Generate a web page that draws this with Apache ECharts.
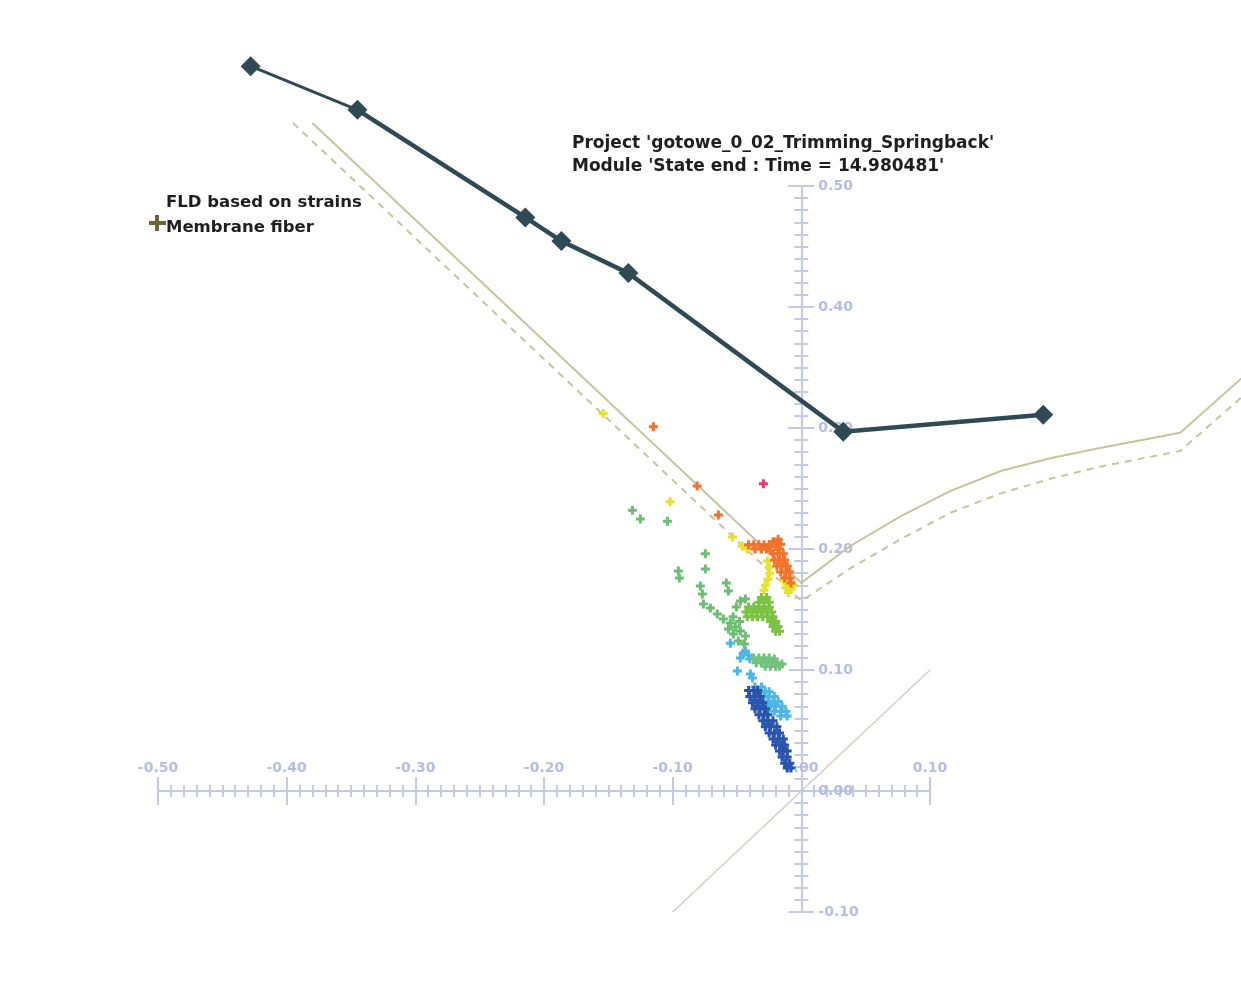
<!DOCTYPE html>
<html>
<head>
<meta charset="utf-8">
<title>FLD based on strains</title>
<script src="https://cdn.jsdelivr.net/npm/echarts@6/dist/echarts.min.js"></script>
<style>
  html, body { margin: 0; padding: 0; background: #ffffff; }
  #chart { width: 1241px; height: 984px; }
</style>
</head>
<body>
<div id="chart"></div>
<script>
// Axis ranges (minor strain on x, major strain on y)
const xRange = [-0.5, 0.1];
const yRange = [-0.1, 0.5];
const tickStep = 0.1;

const titleLines = [
  "Project 'gotowe_0_02_Trimming_Springback'",
  "Module 'State end : Time = 14.980481'"
];
const legendLabels = ['FLD based on strains', 'Membrane fiber'];

// Forming limit curve and its safety margin
const fldCurve = [[-0.380, 0.552], [0, 0.172], [0.038, 0.2025], [0.077, 0.227], [0.116, 0.248],
  [0.155, 0.2645], [0.1935, 0.275], [0.232, 0.2835], [0.2945, 0.296], [0.36, 0.358]];
const fldSafety = [[-0.395, 0.552], [0, 0.157], [0.038, 0.184], [0.077, 0.208], [0.116, 0.230],
  [0.155, 0.246], [0.1935, 0.258], [0.232, 0.268], [0.2945, 0.281], [0.36, 0.342]];
// Equi-biaxial reference line
const diagonal = [[-0.1, -0.1], [0.1, 0.1]];

// Strain path (diamond nodes)
const strainPath = [[-0.428, 0.599], [-0.345, 0.563], [-0.2145, 0.474], [-0.1865, 0.4545],
  [-0.1344, 0.428], [0.0326, 0.297], [0.188, 0.311]];

// Membrane fiber strain points, grouped by colour level
const ptsDarkBlue = [
  [-0.041, 0.083], [-0.037, 0.083], [-0.034, 0.083],
  [-0.040, 0.078], [-0.036, 0.078], [-0.032, 0.078],
  [-0.038, 0.073], [-0.034, 0.073], [-0.030, 0.073],
  [-0.036, 0.068], [-0.032, 0.068], [-0.028, 0.068],
  [-0.033, 0.063], [-0.029, 0.063], [-0.026, 0.063],
  [-0.030, 0.058], [-0.026, 0.058], [-0.022, 0.058],
  [-0.028, 0.053], [-0.024, 0.053], [-0.019, 0.053],
  [-0.025, 0.048], [-0.021, 0.048], [-0.017, 0.048],
  [-0.022, 0.043], [-0.018, 0.043], [-0.014, 0.043],
  [-0.020, 0.038], [-0.016, 0.038], [-0.013, 0.038],
  [-0.017, 0.033], [-0.014, 0.033], [-0.011, 0.033],
  [-0.015, 0.028], [-0.011, 0.028],
  [-0.013, 0.023], [-0.009, 0.023],
  [-0.011, 0.019], [-0.008, 0.019]];
const ptsLightBlue = [
  [-0.0451, 0.114], [-0.0412, 0.1123], [-0.0474, 0.1099], [-0.0435, 0.1156], [-0.040, 0.109],
  [-0.0552, 0.1222], [-0.0497, 0.0991], [-0.0396, 0.0966], [-0.038, 0.0933],
  [-0.036, 0.086], [-0.031, 0.086],
  [-0.032, 0.082], [-0.028, 0.082], [-0.025, 0.082],
  [-0.029, 0.078], [-0.025, 0.078], [-0.021, 0.078],
  [-0.026, 0.074], [-0.022, 0.074], [-0.018, 0.074],
  [-0.024, 0.070], [-0.020, 0.070], [-0.015, 0.070],
  [-0.021, 0.066], [-0.016, 0.066], [-0.012, 0.066],
  [-0.016, 0.062], [-0.011, 0.062]];
const ptsCyanGreen = [
  [-0.037, 0.110], [-0.033, 0.110], [-0.029, 0.110], [-0.025, 0.110], [-0.021, 0.109],
  [-0.035, 0.106], [-0.031, 0.106], [-0.027, 0.106], [-0.023, 0.106], [-0.019, 0.106], [-0.015, 0.105],
  [-0.028, 0.103], [-0.024, 0.103], [-0.020, 0.103], [-0.017, 0.103]];
const ptsMidGreen = [[-0.0746, 0.196], [-0.0746, 0.1834], [-0.0956, 0.1818], [-0.0948, 0.176],
  [-0.0785, 0.1694], [-0.0769, 0.1628], [-0.0583, 0.1719], [-0.0567, 0.1652], [-0.1313, 0.2321],
  [-0.1251, 0.2247], [-0.1041, 0.223], [-0.0761, 0.1545], [-0.0707, 0.1512], [-0.0653, 0.1462],
  [-0.0606, 0.1421], [-0.0552, 0.1388], [-0.0513, 0.1355], [-0.0474, 0.1322], [-0.0435, 0.128],
  [-0.0528, 0.1297], [-0.049, 0.1239], [-0.0443, 0.1215], [-0.0567, 0.1338], [-0.0474, 0.157],
  [-0.0435, 0.1586], [-0.0505, 0.152], [-0.0480, 0.1400], [-0.0530, 0.1440]];
const ptsGreen = [
  [-0.031, 0.160], [-0.027, 0.160],
  [-0.033, 0.156], [-0.029, 0.156], [-0.025, 0.156],
  [-0.041, 0.152], [-0.037, 0.152], [-0.033, 0.152], [-0.029, 0.152], [-0.025, 0.152],
  [-0.043, 0.148], [-0.039, 0.148], [-0.035, 0.148], [-0.031, 0.148], [-0.027, 0.148], [-0.023, 0.148],
  [-0.042, 0.144], [-0.038, 0.144], [-0.034, 0.144], [-0.030, 0.144], [-0.026, 0.144], [-0.022, 0.144],
  [-0.024, 0.140], [-0.020, 0.140],
  [-0.022, 0.136], [-0.018, 0.136],
  [-0.020, 0.132], [-0.017, 0.132]];
const ptsYellow = [[-0.154, 0.312], [-0.102, 0.239], [-0.0536, 0.210], [-0.046, 0.2025],
  [-0.042, 0.200], [-0.0264, 0.190], [-0.025, 0.185], [-0.0245, 0.180], [-0.026, 0.175],
  [-0.028, 0.170], [-0.029, 0.166], [-0.014, 0.174], [-0.010, 0.172], [-0.012, 0.168],
  [-0.008, 0.167], [-0.010, 0.164], [-0.006, 0.170]];
const ptsOrange = [[-0.115, 0.301], [-0.081, 0.252], [-0.0645, 0.228],
  [-0.041, 0.2035], [-0.037, 0.2035], [-0.033, 0.2035], [-0.029, 0.2035], [-0.025, 0.2035],
  [-0.036, 0.200], [-0.031, 0.200], [-0.027, 0.200],
  [-0.022, 0.206], [-0.018, 0.208], [-0.016, 0.204], [-0.020, 0.202], [-0.024, 0.199], [-0.017, 0.200],
  [-0.022, 0.196], [-0.018, 0.196], [-0.014, 0.196],
  [-0.021, 0.191], [-0.017, 0.191], [-0.013, 0.191],
  [-0.019, 0.186], [-0.015, 0.186], [-0.011, 0.186],
  [-0.016, 0.181], [-0.012, 0.181], [-0.009, 0.181],
  [-0.013, 0.176], [-0.009, 0.176], [-0.008, 0.172]];
const ptsRed = [[-0.0295, 0.254]];

const plusIcon = 'path://M3,0H6V3H9V6H6V9H3V6H0V3H3Z';
const axisBlue = '#c3c9ea';
const labelBlue = '#b5bde6';
const font = 'DejaVu Sans';

// Plot area; the visible axes sit on separate grids whose edges run through zero
const plot = { left: 158, top: 186, width: 772, height: 726 };
const zeroX = plot.left + plot.width * (0 - xRange[0]) / (xRange[1] - xRange[0]);
const zeroY = plot.top + plot.height * (yRange[1] - 0) / (yRange[1] - yRange[0]);

function fiberSeries(data, color) {
  return {
    name: legendLabels[1], type: 'scatter', data: data, symbol: plusIcon, symbolSize: 9,
    itemStyle: { color: color, opacity: 1 }, clip: false, z: 4, silent: true
  };
}
function curveSeries(coords, color, width, dash, z) {
  return {
    type: 'lines', coordinateSystem: 'cartesian2d', xAxisIndex: 0, yAxisIndex: 0,
    polyline: true, clip: false, silent: true, z: z,
    data: [{ coords: coords }],
    lineStyle: { color: color, width: width, opacity: 1, type: dash || 'solid', curveness: 0 }
  };
}

const fmt = v => v.toFixed(2);
const hidden = (min, max, grid) => ({ type: 'value', min: min, max: max, gridIndex: grid, show: false });

function visibleX(inside, withLine) {
  return {
    type: 'value', gridIndex: 1, position: 'bottom', min: xRange[0], max: xRange[1], interval: tickStep,
    axisLine: { show: withLine, onZero: false, lineStyle: { color: axisBlue, width: 2 } },
    axisTick: { show: true, inside: inside, length: 14, lineStyle: { color: axisBlue, width: 2 } },
    minorTick: { show: true, splitNumber: 10, length: 6, lineStyle: { color: axisBlue, width: 2 } },
    axisLabel: { show: withLine, inside: true, margin: 16, formatter: fmt, color: labelBlue,
      fontFamily: font, fontWeight: 'bold', fontSize: 14 },
    splitLine: { show: false }
  };
}
function visibleY(inside, withLine) {
  return {
    type: 'value', gridIndex: 2, position: 'left', min: yRange[0], max: yRange[1], interval: tickStep,
    axisLine: { show: withLine, onZero: false, lineStyle: { color: axisBlue, width: 2 } },
    axisTick: { show: true, inside: inside, length: 13, lineStyle: { color: axisBlue, width: 2 } },
    minorTick: { show: true, splitNumber: 10, length: 7, lineStyle: { color: axisBlue, width: 2 } },
    axisLabel: { show: withLine, inside: true, margin: 17, formatter: fmt, color: labelBlue,
      fontFamily: font, fontWeight: 'bold', fontSize: 14 },
    splitLine: { show: false }
  };
}

const chart = echarts.init(document.getElementById('chart'), null, { renderer: 'canvas' });
chart.setOption({
  animation: false,
  backgroundColor: '#ffffff',
  title: {
    text: titleLines.join('\n'), left: 567, top: 127,
    textStyle: { fontFamily: font, fontWeight: 'bold', fontSize: 17, lineHeight: 23, color: '#1e1e1e' }
  },
  grid: [
    { left: plot.left, top: plot.top, width: plot.width, height: plot.height, outerBoundsMode: 'none' },
    { left: plot.left, top: plot.top, width: plot.width, height: zeroY - plot.top, outerBoundsMode: 'none' },
    { left: zeroX, top: plot.top, width: plot.left + plot.width - zeroX, height: plot.height, outerBoundsMode: 'none' }
  ],
  xAxis: [
    hidden(xRange[0], xRange[1], 0),
    visibleX(true, true), visibleX(false, false),
    hidden(0, 1, 2)
  ],
  yAxis: [
    hidden(yRange[0], yRange[1], 0),
    hidden(0, 1, 1),
    visibleY(true, true), visibleY(false, false)
  ],
  graphic: [
    { type: 'text', left: 166, top: 194, style: { text: legendLabels[0], fontFamily: font,
      fontWeight: 'bold', fontSize: 16.5, fill: '#1e1e1e' } },
    { type: 'text', left: 166, top: 219, style: { text: legendLabels[1], fontFamily: font,
      fontWeight: 'bold', fontSize: 16.5, fill: '#1e1e1e' } },
    { type: 'rect', shape: { x: 149, y: 221, width: 17, height: 4 }, style: { fill: '#6e6632' } },
    { type: 'rect', shape: { x: 155, y: 215, width: 4, height: 16 }, style: { fill: '#6e6632' } }
  ],
  series: [
    curveSeries(diagonal, '#d2cec4', 1.5, null, 1),
    curveSeries(fldCurve, '#c9c39b', 2, null, 2),
    curveSeries(fldSafety, '#c9c39b', 2, [7, 6], 2),
    fiberSeries(ptsLightBlue, '#4cb7e7'),
    fiberSeries(ptsDarkBlue, '#2754ac'),
    fiberSeries(ptsCyanGreen, '#72c27c'),
    fiberSeries(ptsMidGreen, '#6cbf72'),
    fiberSeries(ptsGreen, '#7cc243'),
    fiberSeries(ptsYellow, '#e6e22c'),
    fiberSeries(ptsOrange, '#f2722a'),
    fiberSeries(ptsRed, '#e8386e'),
    curveSeries(strainPath.slice(0, 2), '#2f4a54', 3, null, 5),
    curveSeries(strainPath.slice(1), '#2f4a54', 4.5, null, 5),
    { name: 'Strain path', type: 'scatter', data: strainPath, symbol: 'diamond', symbolSize: 20,
      clip: false, silent: true, z: 6, itemStyle: { color: '#2f4a54', opacity: 1 } }
  ]
});
</script>
</body>
</html>
